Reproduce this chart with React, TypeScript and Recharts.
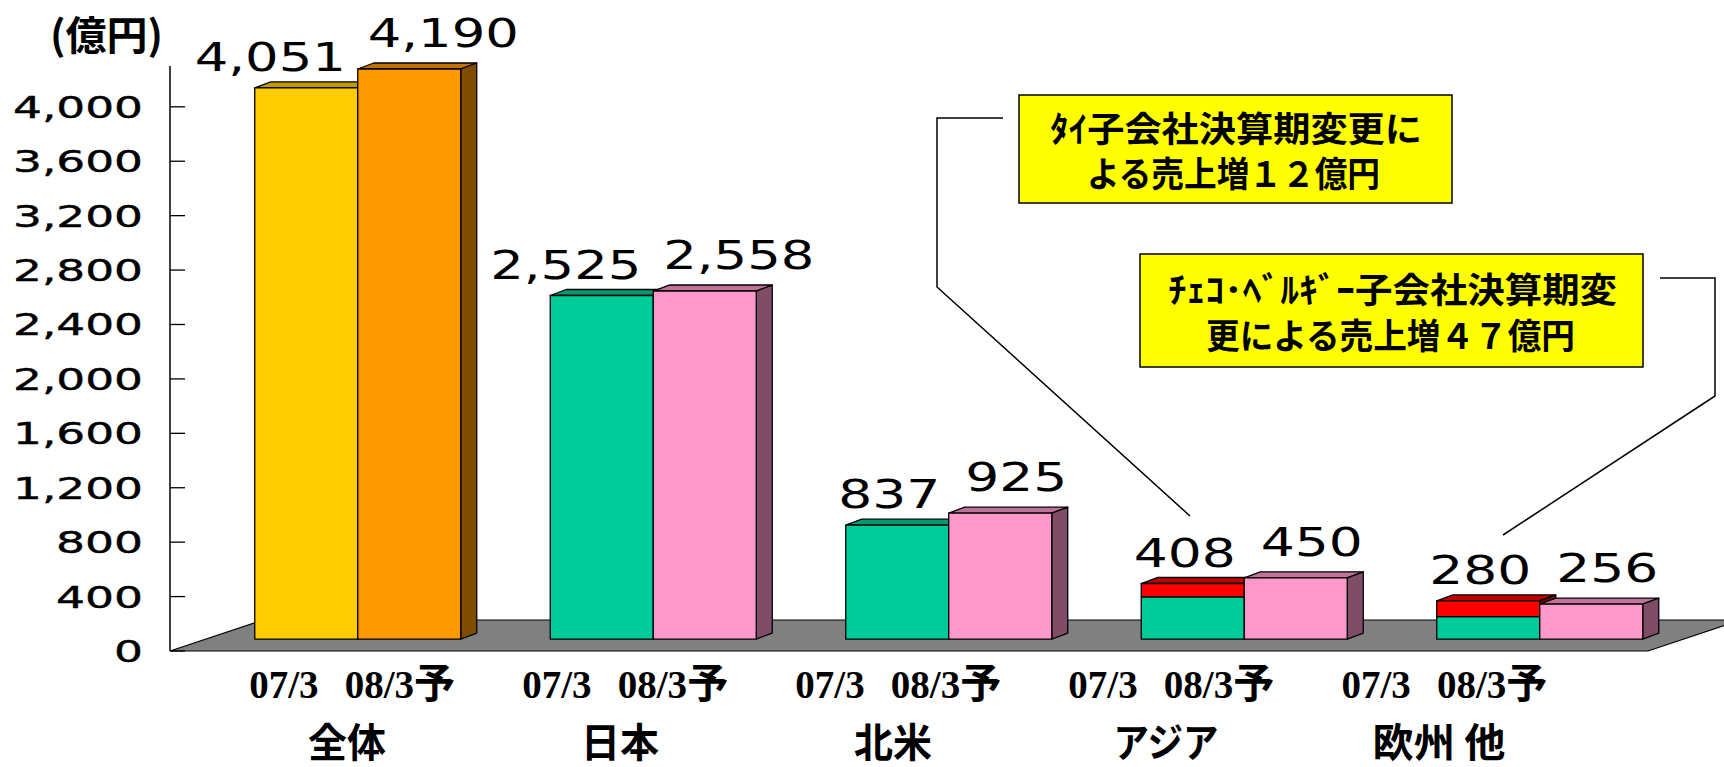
import React from 'react'
import { BarChart, Bar, XAxis, YAxis, ReferenceArea, LabelList } from 'recharts'

// values (億円)
const regions = ['全体', '日本', '北米', 'アジア', '欧州 他']
const base07 = [4051, 2525, 837, 310, 165]
const extra07 = [0, 0, 0, 98, 115]
const total07 = [4051, 2525, 837, 408, 280]
const plan08 = [4190, 2558, 925, 450, 256]
const periodLabels = ['07/3', '08/3', '予']
const yTicks = [0, 400, 800, 1200, 1600, 2000, 2400, 2800, 3200, 3600, 4000]
const unitLabel = '(億円)'
const noteThai = ['ﾀｲ子会社決算期変更に', 'よる売上増１２億円']
const noteEu = ['ﾁｪｺ･ﾍﾞﾙｷﾞｰ子会社決算期変', '更による売上増４７億円']

const rows = regions.map((region, i) => ({
  region,
  base07: base07[i],
  extra07: extra07[i],
  total07: total07[i],
  plan08: plan08[i],
}))

const W = 1724
const H = 767
const AXIS_X = 170
const FLOOR_RIGHT = 1648
const DX = 16
const DY = 6

const FILL07 = ['#FFCC00', '#00CC99', '#00CC99', '#00CC99', '#00CC99']
const FILL08 = ['#FF9900', '#FF99CC', '#FF99CC', '#FF99CC', '#FF99CC']
const RED = '#FF0000'

const NUM_FONT = '"DejaVu Sans", sans-serif'
const JP_FONT = '"Noto Sans CJK JP", sans-serif'
const SERIF = '"Liberation Serif", "Noto Sans CJK JP", serif'

function shade(hex: string, k: number) {
  const n = parseInt(hex.slice(1), 16)
  const c = [(n >> 16) & 255, (n >> 8) & 255, n & 255].map((v) => Math.round(v * k))
  return `rgb(${c[0]},${c[1]},${c[2]})`
}

function numWidth(s: string, digit: number, comma: number) {
  return [...s].reduce((w, ch) => w + (ch === ',' ? comma : digit), 0)
}

function jpWidth(s: string) {
  return [...s].reduce((w, ch) => {
    if (ch === ' ') return w + 16
    if (/[\u30a0-\u30ff]/.test(ch)) return w + 35
    return w + 39
  }, 0)
}

function Bar3D(p: any) {
  const { x, y, width, height, fill } = p
  if (!(height > 0.5)) return <g />
  return (
    <g stroke="#000" strokeWidth={1.3} strokeLinejoin="round">
      <polygon
        points={`${x},${y} ${x + DX},${y - DY} ${x + width + DX},${y - DY} ${x + width},${y}`}
        fill={shade(fill, 0.75)}
      />
      <polygon
        points={`${x + width},${y} ${x + width + DX},${y - DY} ${x + width + DX},${y + height - DY} ${x + width},${y + height}`}
        fill={shade(fill, 0.5)}
      />
      <rect x={x} y={y} width={width} height={height} fill={fill} />
    </g>
  )
}

function Floor(p: any) {
  const front = p.y + p.height
  const back = p.y
  const d = (front - back) * 3
  return (
    <polygon
      points={`${AXIS_X},${front} ${FLOOR_RIGHT},${front} ${FLOOR_RIGHT + d},${back} ${AXIS_X + d},${back}`}
      fill="#808080"
      stroke="#000"
      strokeWidth={1.2}
    />
  )
}

function YTick(p: any) {
  const { y, payload } = p
  const x = AXIS_X
  const s = Number(payload.value).toLocaleString('en-US')
  const w = numWidth(s, 29, 14)
  return (
    <g>
      <line x1={x} x2={x + 15} y1={y} y2={y} stroke="#000" strokeWidth={1.3} />
      <text
        x={x - 27 - w}
        y={y + 11}
        textAnchor="start"
        fontFamily={NUM_FONT}
        fontSize={30}
        fill="#000"
        stroke="#000"
        strokeWidth={0.4}
        textLength={w}
        lengthAdjust="spacingAndGlyphs"
      >
        {s}
      </text>
    </g>
  )
}

// period / region labels sit on a slightly narrower spacing than the bars
function RegionTick(p: any) {
  const { x, y, payload } = p
  const c = 888 + (x - 948.5) * 0.924
  const name = String(payload.value)
  const nw = jpWidth(name)
  return (
    <g fill="#000">
      <text x={c - 58} y={y + 47} textAnchor="middle" fontFamily={SERIF} fontWeight={700} fontSize={39}>
        {periodLabels[0]}
      </text>
      <text x={c + 58} y={y + 47} textAnchor="middle" fontFamily={SERIF} fontWeight={700} fontSize={39}>
        {periodLabels[1]}
        <tspan fontFamily={JP_FONT} fontSize={41}>
          {periodLabels[2]}
        </tspan>
      </text>
      <text
        x={c + 5 - nw / 2}
        y={y + 106}
        textAnchor="start"
        fontFamily={JP_FONT}
        fontWeight={700}
        fontSize={40}
        textLength={nw}
        lengthAdjust="spacingAndGlyphs"
      >
        {name}
      </text>
    </g>
  )
}

// wide labels are pushed apart so the pair does not collide
function valueLabel(side: number, gap: number) {
  return (p: any) => {
    const { x, y, width, value } = p
    const s = Number(value).toLocaleString('en-US')
    const w = numWidth(s, 34, 15)
    const shift = side < 0 ? (s.length > 3 ? -36 : -8) : s.length > 3 ? 34 : 16
    return (
      <text
        x={x + width / 2 + shift - w / 2}
        y={y - gap}
        textAnchor="start"
        fontFamily={NUM_FONT}
        fontSize={39}
        fill="#000"
        textLength={w}
        lengthAdjust="spacingAndGlyphs"
      >
        {s}
      </text>
    )
  }
}

function Note({ x, y, w, h, lines, textX, textW, base }: any) {
  return (
    <g>
      <rect x={x} y={y} width={w} height={h} fill="#FFFF00" stroke="#000" strokeWidth={1.5} />
      {lines.map((t: string, i: number) => (
        <text
          key={i}
          x={textX[i]}
          y={base[i]}
          fontFamily={JP_FONT}
          fontWeight={700}
          fontSize={35}
          fill="#000"
          textLength={textW[i]}
          lengthAdjust="spacingAndGlyphs"
        >
          {t}
        </text>
      ))}
    </g>
  )
}

export default function App() {
  return (
    <div style={{ position: 'absolute', left: 0, top: 0, width: W, height: H, background: '#fff' }}>
      <BarChart
        width={W}
        height={H}
        data={rows}
        margin={{ top: 66, right: 0, bottom: 0, left: 0 }}
        barCategoryGap={45}
        barGap={0}
      >
        <XAxis
          dataKey="region"
          height={116}
          axisLine={false}
          tickLine={false}
          tickSize={0}
          tickMargin={0}
          interval={0}
          padding={{ left: 39.75, right: 36.75 }}
          tick={<RegionTick />}
        />
        <YAxis
          yAxisId="front"
          type="number"
          width={170}
          domain={[0, 4300]}
          ticks={yTicks}
          allowDataOverflow
          tickLine={false}
          tickSize={0}
          tickMargin={0}
          axisLine={{ stroke: '#000', strokeWidth: 1.5 }}
          tick={<YTick />}
        />
        <YAxis yAxisId="bars" type="number" hide width={0} domain={[-88, 4212]} />
        <ReferenceArea
          yAxisId="front"
          y1={0}
          y2={228}
          ifOverflow="visible"
          shape={(p: any) => <Floor {...p} />}
        />
        <Bar
          yAxisId="bars"
          dataKey="base07"
          stackId="a"
          isAnimationActive={false}
          shape={(p: any) => <Bar3D {...p} fill={FILL07[p.index]} />}
        />
        <Bar
          yAxisId="bars"
          dataKey="extra07"
          stackId="a"
          isAnimationActive={false}
          shape={(p: any) => <Bar3D {...p} fill={RED} />}
        >
          <LabelList dataKey="total07" content={valueLabel(-1, 17)} />
        </Bar>
        <Bar
          yAxisId="bars"
          dataKey="plan08"
          isAnimationActive={false}
          shape={(p: any) => <Bar3D {...p} fill={FILL08[p.index]} />}
        >
          <LabelList dataKey="plan08" content={valueLabel(1, 22)} />
        </Bar>
      </BarChart>

      <svg
        width={W}
        height={H}
        style={{ position: 'absolute', left: 0, top: 0, pointerEvents: 'none' }}
      >
        <text
          x={50}
          y={50}
          fontFamily={JP_FONT}
          fontWeight={700}
          fontSize={40}
          textLength={113}
          lengthAdjust="spacingAndGlyphs"
        >
          {unitLabel}
        </text>
        <polyline
          points="1003,118 937,118 937,287 1190,516"
          fill="none"
          stroke="#000"
          strokeWidth={1.5}
        />
        <polyline
          points="1660,278 1715,278 1715,396 1503,535"
          fill="none"
          stroke="#000"
          strokeWidth={1.5}
        />
        <Note
          x={1019}
          y={95}
          w={433}
          h={108}
          lines={noteThai}
          textX={[1050, 1087]}
          textW={[372, 293]}
          base={[142, 187]}
        />
        <Note
          x={1140}
          y={254}
          w={503}
          h={113}
          lines={noteEu}
          textX={[1168, 1206]}
          textW={[449, 369]}
          base={[303, 349]}
        />
      </svg>
    </div>
  )
}
